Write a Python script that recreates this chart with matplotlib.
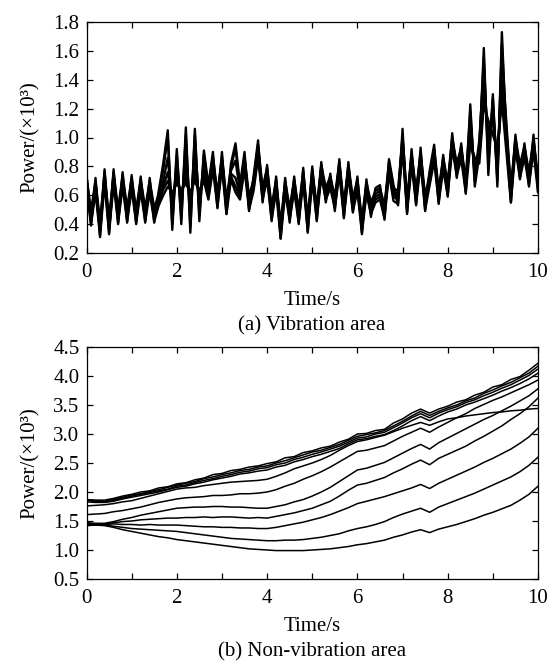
import matplotlib
matplotlib.use("Agg")
import matplotlib.pyplot as plt
from matplotlib.ticker import MultipleLocator
import numpy as np

plt.rcParams['font.family'] = ['Liberation Serif', 'DejaVu Serif']

# ---------------- (a) Vibration area ----------------
t_vib = np.round(np.arange(0, 101) * 0.1, 1)

vib_1 = [.75, .39, .72, .31, .78, .33, .78, .40, .76, .41,
         .74, .40, .73, .41, .72, .41, .63, .82, 1.05, .36,
         .92, .40, 1.07, .34, 1.06, .42, .91, .67, .90, .51,
         .90, .47, .82, .96, .67, .90, .49, .73, .98, .55,
         .81, .42, .73, .30, .72, .41, .73, .40, .79, .34,
         .80, .42, .83, .55, .75, .49, .85, .44, .83, .48,
         .73, .33, .71, .45, .65, .67, .43, .85, .67, .53,
         1.06, .47, .92, .53, .93, .49, .77, .95, .54, .88,
         .59, 1.03, .72, .96, .61, 1.23, .66, .88, 1.62, .74,
         1.30, .66, 1.73, .98, .55, 1.02, .71, .96, .66, 1.02,
         .63]
vib_2 = [.73, .49, .70, .41, .76, .43, .76, .50, .74, .51,
         .72, .50, .71, .51, .70, .51, .61, .78, 1.00, .40,
         .88, .44, 1.02, .38, 1.02, .46, .88, .65, .87, .61,
         .87, .57, .79, .93, .65, .87, .59, .71, .95, .65,
         .79, .52, .71, .40, .70, .51, .71, .50, .77, .44,
         .78, .52, .81, .65, .73, .59, .83, .54, .81, .58,
         .71, .43, .69, .55, .63, .65, .53, .83, .65, .63,
         1.01, .57, .89, .63, .90, .59, .75, .92, .64, .86,
         .69, 1.00, .82, .93, .71, 1.18, .70, .94, 1.55, .82,
         1.27, .70, 1.65, 1.05, .65, 1.00, .81, .94, .76, .99,
         .73]
vib_3 = [.71, .47, .68, .39, .74, .41, .74, .48, .72, .49,
         .70, .48, .69, .49, .68, .49, .59, .70, .86, .50,
         .80, .52, .90, .48, .92, .54, .82, .63, .85, .59,
         .85, .55, .77, .84, .63, .85, .57, .69, .93, .63,
         .77, .50, .69, .38, .68, .49, .69, .48, .75, .42,
         .76, .50, .79, .63, .71, .57, .81, .52, .79, .56,
         .69, .41, .67, .53, .61, .63, .51, .81, .63, .61,
         .99, .55, .87, .61, .88, .57, .73, .90, .62, .84,
         .67, .98, .80, .91, .69, 1.12, .74, .98, 1.48, .90,
         1.22, .76, 1.55, 1.10, .63, .98, .79, .92, .74, .97,
         .71]
vib_4 = [.69, .45, .66, .37, .72, .39, .72, .46, .70, .47,
         .68, .46, .67, .47, .66, .47, .57, .66, .76, .56,
         .74, .58, .78, .54, .82, .58, .76, .61, .83, .57,
         .83, .53, .75, .72, .61, .83, .55, .67, .91, .61,
         .75, .48, .67, .36, .66, .47, .67, .46, .73, .40,
         .74, .48, .77, .61, .69, .55, .79, .50, .77, .54,
         .67, .39, .65, .51, .59, .61, .49, .79, .61, .59,
         .97, .53, .85, .59, .86, .55, .71, .88, .60, .82,
         .65, .96, .78, .89, .67, 1.06, .78, .92, 1.40, .96,
         1.18, .80, 1.45, 1.02, .61, .96, .77, .90, .72, .95,
         .69]
vib_5 = [.67, .43, .64, .35, .70, .37, .70, .44, .68, .45,
         .66, .44, .65, .45, .64, .45, .55, .64, .70, .60,
         .70, .62, .72, .60, .74, .62, .72, .59, .81, .55,
         .81, .51, .73, .66, .59, .81, .53, .65, .89, .59,
         .73, .46, .65, .34, .64, .45, .65, .44, .71, .38,
         .72, .46, .75, .59, .67, .53, .77, .48, .75, .52,
         .65, .37, .63, .49, .57, .59, .47, .77, .59, .57,
         .95, .51, .83, .57, .84, .53, .69, .86, .58, .80,
         .63, .94, .76, .87, .65, 1.00, .82, .86, 1.30, 1.05,
         1.10, .86, 1.35, .95, .59, .94, .75, .88, .70, .93,
         .67]
vib_6 = [.64, .40, .62, .32, .68, .34, .68, .41, .66, .42,
         .64, .41, .63, .42, .62, .42, .53, .60, .66, .62,
         .68, .64, .68, .62, .70, .62, .70, .57, .78, .52,
         .79, .47, .71, .62, .57, .78, .50, .63, .86, .57,
         .71, .43, .63, .30, .62, .43, .63, .41, .69, .35,
         .70, .43, .73, .57, .65, .51, .75, .45, .73, .49,
         .63, .34, .61, .47, .55, .57, .44, .75, .56, .54,
         .92, .48, .81, .54, .82, .50, .67, .84, .55, .78,
         .60, .92, .74, .85, .62, .95, .86, .82, 1.22, 1.12,
         1.02, .92, 1.25, .90, .55, .92, .72, .86, .67, .91,
         .62]
vib_lines = [vib_1, vib_2, vib_3, vib_4, vib_5, vib_6]

# ---------------- (b) Non-vibration area ----------------
t_non = np.round(np.arange(0, 51) * 0.2, 1)

non_c1 = [1.87, 1.86, 1.86, 1.89, 1.93, 1.96, 2.00, 2.02, 2.07, 2.09,
          2.14, 2.16, 2.21, 2.24, 2.30, 2.32, 2.37, 2.39, 2.43, 2.45,
          2.49, 2.52, 2.59, 2.61, 2.68, 2.71, 2.76, 2.79, 2.86, 2.91,
          3.00, 3.01, 3.06, 3.08, 3.19, 3.26, 3.36, 3.43, 3.36, 3.43,
          3.48, 3.55, 3.59, 3.67, 3.72, 3.81, 3.85, 3.94, 3.99, 4.10,
          4.22]
non_c2 = [1.86, 1.85, 1.84, 1.87, 1.91, 1.95, 1.97, 2.01, 2.04, 2.08,
          2.12, 2.15, 2.18, 2.23, 2.26, 2.30, 2.33, 2.37, 2.39, 2.43,
          2.45, 2.50, 2.54, 2.59, 2.64, 2.69, 2.72, 2.77, 2.82, 2.89,
          2.96, 2.99, 3.02, 3.06, 3.14, 3.22, 3.31, 3.39, 3.32, 3.39,
          3.45, 3.50, 3.57, 3.62, 3.70, 3.76, 3.83, 3.89, 3.97, 4.05,
          4.17]
non_c3 = [1.85, 1.84, 1.83, 1.86, 1.89, 1.93, 1.96, 1.99, 2.02, 2.05,
          2.10, 2.12, 2.16, 2.20, 2.23, 2.27, 2.30, 2.34, 2.36, 2.40,
          2.42, 2.47, 2.50, 2.56, 2.60, 2.65, 2.69, 2.74, 2.79, 2.86,
          2.93, 2.95, 3.00, 3.03, 3.11, 3.19, 3.28, 3.35, 3.28, 3.36,
          3.42, 3.47, 3.54, 3.59, 3.66, 3.72, 3.79, 3.85, 3.93, 4.01,
          4.12]
non_c4 = [1.83, 1.82, 1.82, 1.84, 1.88, 1.91, 1.94, 1.97, 2.00, 2.04,
          2.08, 2.10, 2.14, 2.17, 2.21, 2.24, 2.27, 2.31, 2.33, 2.36,
          2.38, 2.43, 2.46, 2.52, 2.56, 2.61, 2.65, 2.70, 2.75, 2.83,
          2.90, 2.92, 2.96, 2.99, 3.06, 3.14, 3.23, 3.30, 3.23, 3.31,
          3.38, 3.43, 3.50, 3.55, 3.61, 3.67, 3.74, 3.80, 3.87, 3.95,
          4.05]
non_d = [1.76, 1.77, 1.78, 1.80, 1.83, 1.85, 1.89, 1.93, 1.97, 2.01,
         2.05, 2.07, 2.08, 2.11, 2.13, 2.15, 2.17, 2.18, 2.19, 2.20,
         2.22, 2.27, 2.33, 2.40, 2.45, 2.50, 2.56, 2.63, 2.72, 2.80,
         2.87, 2.90, 2.94, 2.98, 3.04, 3.10, 3.15, 3.20, 3.15, 3.21,
         3.26, 3.28, 3.31, 3.33, 3.35, 3.37, 3.38, 3.40, 3.41, 3.43,
         3.44]
non_e = [1.61, 1.62, 1.63, 1.66, 1.68, 1.71, 1.74, 1.78, 1.82, 1.85,
         1.88, 1.90, 1.91, 1.92, 1.94, 1.94, 1.95, 1.97, 1.97, 1.98,
         2.00, 2.04, 2.10, 2.15, 2.22, 2.28, 2.35, 2.43, 2.52, 2.61,
         2.70, 2.72, 2.76, 2.80, 2.88, 2.96, 3.03, 3.10, 3.03, 3.12,
         3.20, 3.28, 3.35, 3.44, 3.51, 3.58, 3.64, 3.71, 3.78, 3.85,
         3.93]
non_f = [1.47, 1.46, 1.46, 1.49, 1.53, 1.56, 1.60, 1.63, 1.66, 1.69,
         1.72, 1.73, 1.74, 1.74, 1.75, 1.75, 1.74, 1.74, 1.73, 1.72,
         1.72, 1.75, 1.78, 1.83, 1.87, 1.93, 2.00, 2.08, 2.18, 2.28,
         2.38, 2.41, 2.46, 2.51, 2.59, 2.67, 2.75, 2.82, 2.74, 2.85,
         2.93, 3.01, 3.09, 3.17, 3.25, 3.32, 3.40, 3.48, 3.57, 3.66,
         3.78]
non_g = [1.46, 1.45, 1.45, 1.47, 1.49, 1.50, 1.52, 1.53, 1.54, 1.55,
         1.55, 1.56, 1.56, 1.57, 1.56, 1.57, 1.57, 1.56, 1.55, 1.56,
         1.55, 1.58, 1.61, 1.64, 1.68, 1.72, 1.78, 1.84, 1.93, 2.03,
         2.12, 2.15, 2.20, 2.25, 2.33, 2.40, 2.48, 2.55, 2.47, 2.58,
         2.65, 2.72, 2.79, 2.88, 2.96, 3.05, 3.14, 3.25, 3.35, 3.47,
         3.62]
non_h = [1.44, 1.44, 1.44, 1.45, 1.44, 1.44, 1.43, 1.44, 1.43, 1.43,
         1.43, 1.42, 1.41, 1.40, 1.40, 1.39, 1.39, 1.38, 1.38, 1.37,
         1.37, 1.39, 1.42, 1.45, 1.48, 1.52, 1.56, 1.61, 1.67, 1.73,
         1.80, 1.84, 1.88, 1.92, 1.97, 2.02, 2.07, 2.13, 2.06, 2.15,
         2.22, 2.29, 2.36, 2.43, 2.51, 2.58, 2.66, 2.74, 2.84, 2.95,
         3.10]
non_i = [1.43, 1.43, 1.43, 1.41, 1.39, 1.37, 1.36, 1.35, 1.34, 1.33,
         1.32, 1.30, 1.28, 1.26, 1.24, 1.22, 1.20, 1.19, 1.18, 1.17,
         1.16, 1.16, 1.17, 1.17, 1.18, 1.20, 1.22, 1.25, 1.28, 1.33,
         1.37, 1.40, 1.44, 1.49, 1.56, 1.62, 1.67, 1.72, 1.65, 1.74,
         1.80, 1.86, 1.92, 1.98, 2.05, 2.12, 2.19, 2.26, 2.35, 2.46,
         2.60]
non_j = [1.42, 1.43, 1.42, 1.39, 1.35, 1.32, 1.29, 1.26, 1.23, 1.21,
         1.18, 1.16, 1.14, 1.12, 1.10, 1.08, 1.06, 1.04, 1.02, 1.01,
         1.00, 0.99, 0.99, 0.99, 0.99, 1.00, 1.01, 1.02, 1.04, 1.06,
         1.09, 1.11, 1.14, 1.17, 1.22, 1.26, 1.31, 1.35, 1.30, 1.36,
         1.40, 1.44, 1.49, 1.54, 1.60, 1.65, 1.71, 1.77, 1.86, 1.96,
         2.10]
non_lines = [non_c1, non_c2, non_c3, non_c4, non_d, non_e, non_f,
             non_g, non_h, non_i, non_j]

W, H = 549, 661
fig = plt.figure(figsize=(W / 100, H / 100), dpi=100)

def px_axes(x0, y0, x1, y1):
    return fig.add_axes([x0 / W, 1 - y1 / H, (x1 - x0) / W, (y1 - y0) / H])

ax1 = px_axes(86.5, 22, 538, 253)
ax2 = px_axes(86.5, 347, 538, 579)

FS = 15

for ln in vib_lines:
    ax1.plot(t_vib, ln, color='black', lw=1.7)
for ln in non_lines:
    ax2.plot(t_non, ln, color='black', lw=1.1)

def style(ax, ylo, yhi, ystep):
    ax.set_xlim(0, 10)
    ax.set_ylim(ylo, yhi)
    ax.xaxis.set_major_locator(MultipleLocator(2))
    ax.xaxis.set_minor_locator(MultipleLocator(1))
    ax.yaxis.set_major_locator(MultipleLocator(ystep))
    ax.yaxis.set_major_formatter(plt.FuncFormatter(lambda v, p: '{:.1f}'.format(v)))
    ax.tick_params(which='both', direction='in', top=True, right=True,
                   length=4, width=0.9, labelsize=FS)
    ax.tick_params(axis='x', pad=7)
    ax.tick_params(axis='y', pad=5)
    for s in ax.spines.values():
        s.set_linewidth(0.9)
    ax.set_xlabel('Time/s', fontsize=FS, labelpad=7)
    ax.set_ylabel('Power/(×10³)', fontsize=FS, labelpad=10)

style(ax1, 0.2, 1.8, 0.2)
style(ax2, 0.5, 4.5, 0.5)

fig.text(312 / W, 1 - 326 / H, '(a) Vibration area', ha='center', va='center', fontsize=FS)
fig.text(312 / W, 1 - 652 / H, '(b) Non-vibration area', ha='center', va='center', fontsize=FS)

fig.savefig('out.png', dpi=100)
